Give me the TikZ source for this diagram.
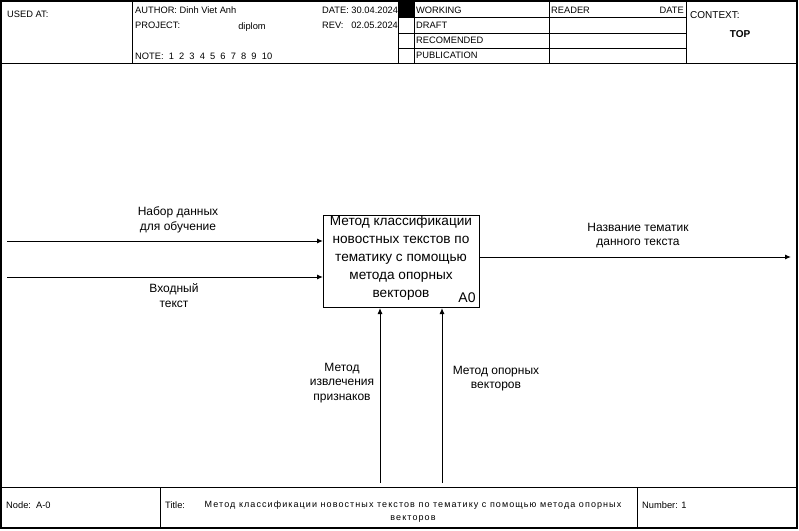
\documentclass[tikz,border=0pt]{standalone}
\usepackage{fontspec}
\setmainfont{Liberation Sans}
\usetikzlibrary{arrows.meta}
\newfontfamily\spacedfont[LetterSpace=12]{Liberation Sans}
\begin{document}
\begin{tikzpicture}[x=1pt,y=-1pt,
  frame/.style={line width=1pt},
  flow/.style={line width=1pt,-{Latex[length=6pt,width=5pt]}},
  hdr/.style={font=\fontsize{9.3}{10}\selectfont,inner sep=0pt,anchor=west},
  lbl/.style={font=\fontsize{12}{14.5}\selectfont,align=center,inner sep=0pt},
  boxtxt/.style={font=\fontsize{13.6}{17.8}\selectfont,align=center,inner sep=0pt}]
\useasboundingbox (0,0) rectangle (799,530);
\fill[white] (0,0) rectangle (799,530);

% outer frame and bands
\draw[line width=1.5pt] (1,1) rectangle (797,528);
\draw[frame] (1,63) -- (797,63);
\draw[frame] (1,487) -- (797,487);

% header grid
\draw[frame] (132,1) -- (132,63);
\draw[frame] (398,1) -- (398,63);
\draw[frame] (414,1) -- (414,63);
\draw[frame] (549,1) -- (549,63);
\draw[frame] (686,1) -- (686,63);
\draw[frame] (398,17.5) -- (686,17.5);
\draw[frame] (398,33) -- (686,33);
\draw[frame] (398,48) -- (686,48);
\fill[black] (398,1) rectangle (414,17.5);

% header texts
\node[hdr] (usedat) at (7,14) {USED AT:};
\node[hdr] (author) at (135,10) {AUTHOR: Dinh Viet Anh};
\node[hdr] (project) at (135,25) {PROJECT:};
\node[hdr,anchor=center] (projname) at (252,27) {diplom};
\node[hdr] (note) at (135,56) {NOTE:\ \ 1\ \ 2\ \ 3\ \ 4\ \ 5\ \ 6\ \ 7\ \ 8\ \ 9\ \ 10};
\node[hdr] (date) at (322,10) {DATE: 30.04.2024};
\node[hdr] (rev) at (322,25) {REV:\ \ \ 02.05.2024};
\node[hdr] (working) at (416,10) {WORKING};
\node[hdr] (draft) at (416,25.5) {DRAFT};
\node[hdr] (recom) at (416,40.5) {RECOMENDED};
\node[hdr] (public) at (416,55.5) {PUBLICATION};
\node[hdr] (reader) at (551,10) {READER};
\node[hdr,anchor=east] (rdate) at (684,10) {DATE};
\node[hdr,font=\fontsize{10}{11}\selectfont] (context) at (690,15) {CONTEXT:};
\node[hdr,anchor=center,font=\fontsize{10}{11}\bfseries] (top) at (740,34) {TOP};

% footer
\draw[frame] (160,487) -- (160,528);
\draw[frame] (637,487) -- (637,528);
\node[hdr] (nodeid) at (6,505) {Node:\ \ A-0};
\node[hdr] (titlelbl) at (165,505) {Title:};
\node[inner sep=0pt,align=center,font=\spacedfont\fontsize{9}{13}\selectfont] (title) at (413,511.5)
  {Метод классификации новостных текстов по тематику с помощью метода опорных\\векторов};
\node[hdr] (number) at (642,505) {Number: 1};

% activity box
\node[draw,line width=1pt,minimum width=156pt,minimum height=92pt,inner sep=0pt,anchor=north west] (box) at (323,215) {};
\node[boxtxt] (boxtext) at (401,258)
  {Метод классификации\\новостных текстов по\\тематику с помощью\\метода опорных\\векторов};
\node[font=\fontsize{14}{16}\selectfont,inner sep=0pt] (boxid) at (467,298) {A0};

% inputs
\coordinate (in1) at (7,241);
\coordinate (in2) at (7,277);
\draw[flow] (in1) -- (in1 -| box.west);
\draw[flow] (in2) -- (in2 -| box.west);
\node[lbl] (in1lbl) at (178,220) {Набор данных\\для обучение};
\node[lbl] (in2lbl) at (174,295.5) {Входный\\текст};

% output
\coordinate (out1) at (791,257);
\draw[flow] (box.east |- out1) -- (out1);
\node[lbl] (outlbl) at (638,235.5) {Название тематик\\данного текста};

% mechanisms
\coordinate (mech1) at (380,483);
\coordinate (mech2) at (442,483);
\draw[flow] (mech1) -- (mech1 |- box.south);
\draw[flow] (mech2) -- (mech2 |- box.south);
\node[lbl] (mech1lbl) at (342,383) {Метод\\извлечения\\признаков};
\node[lbl] (mech2lbl) at (496,378.5) {Метод опорных\\векторов};
\end{tikzpicture}
\end{document}
